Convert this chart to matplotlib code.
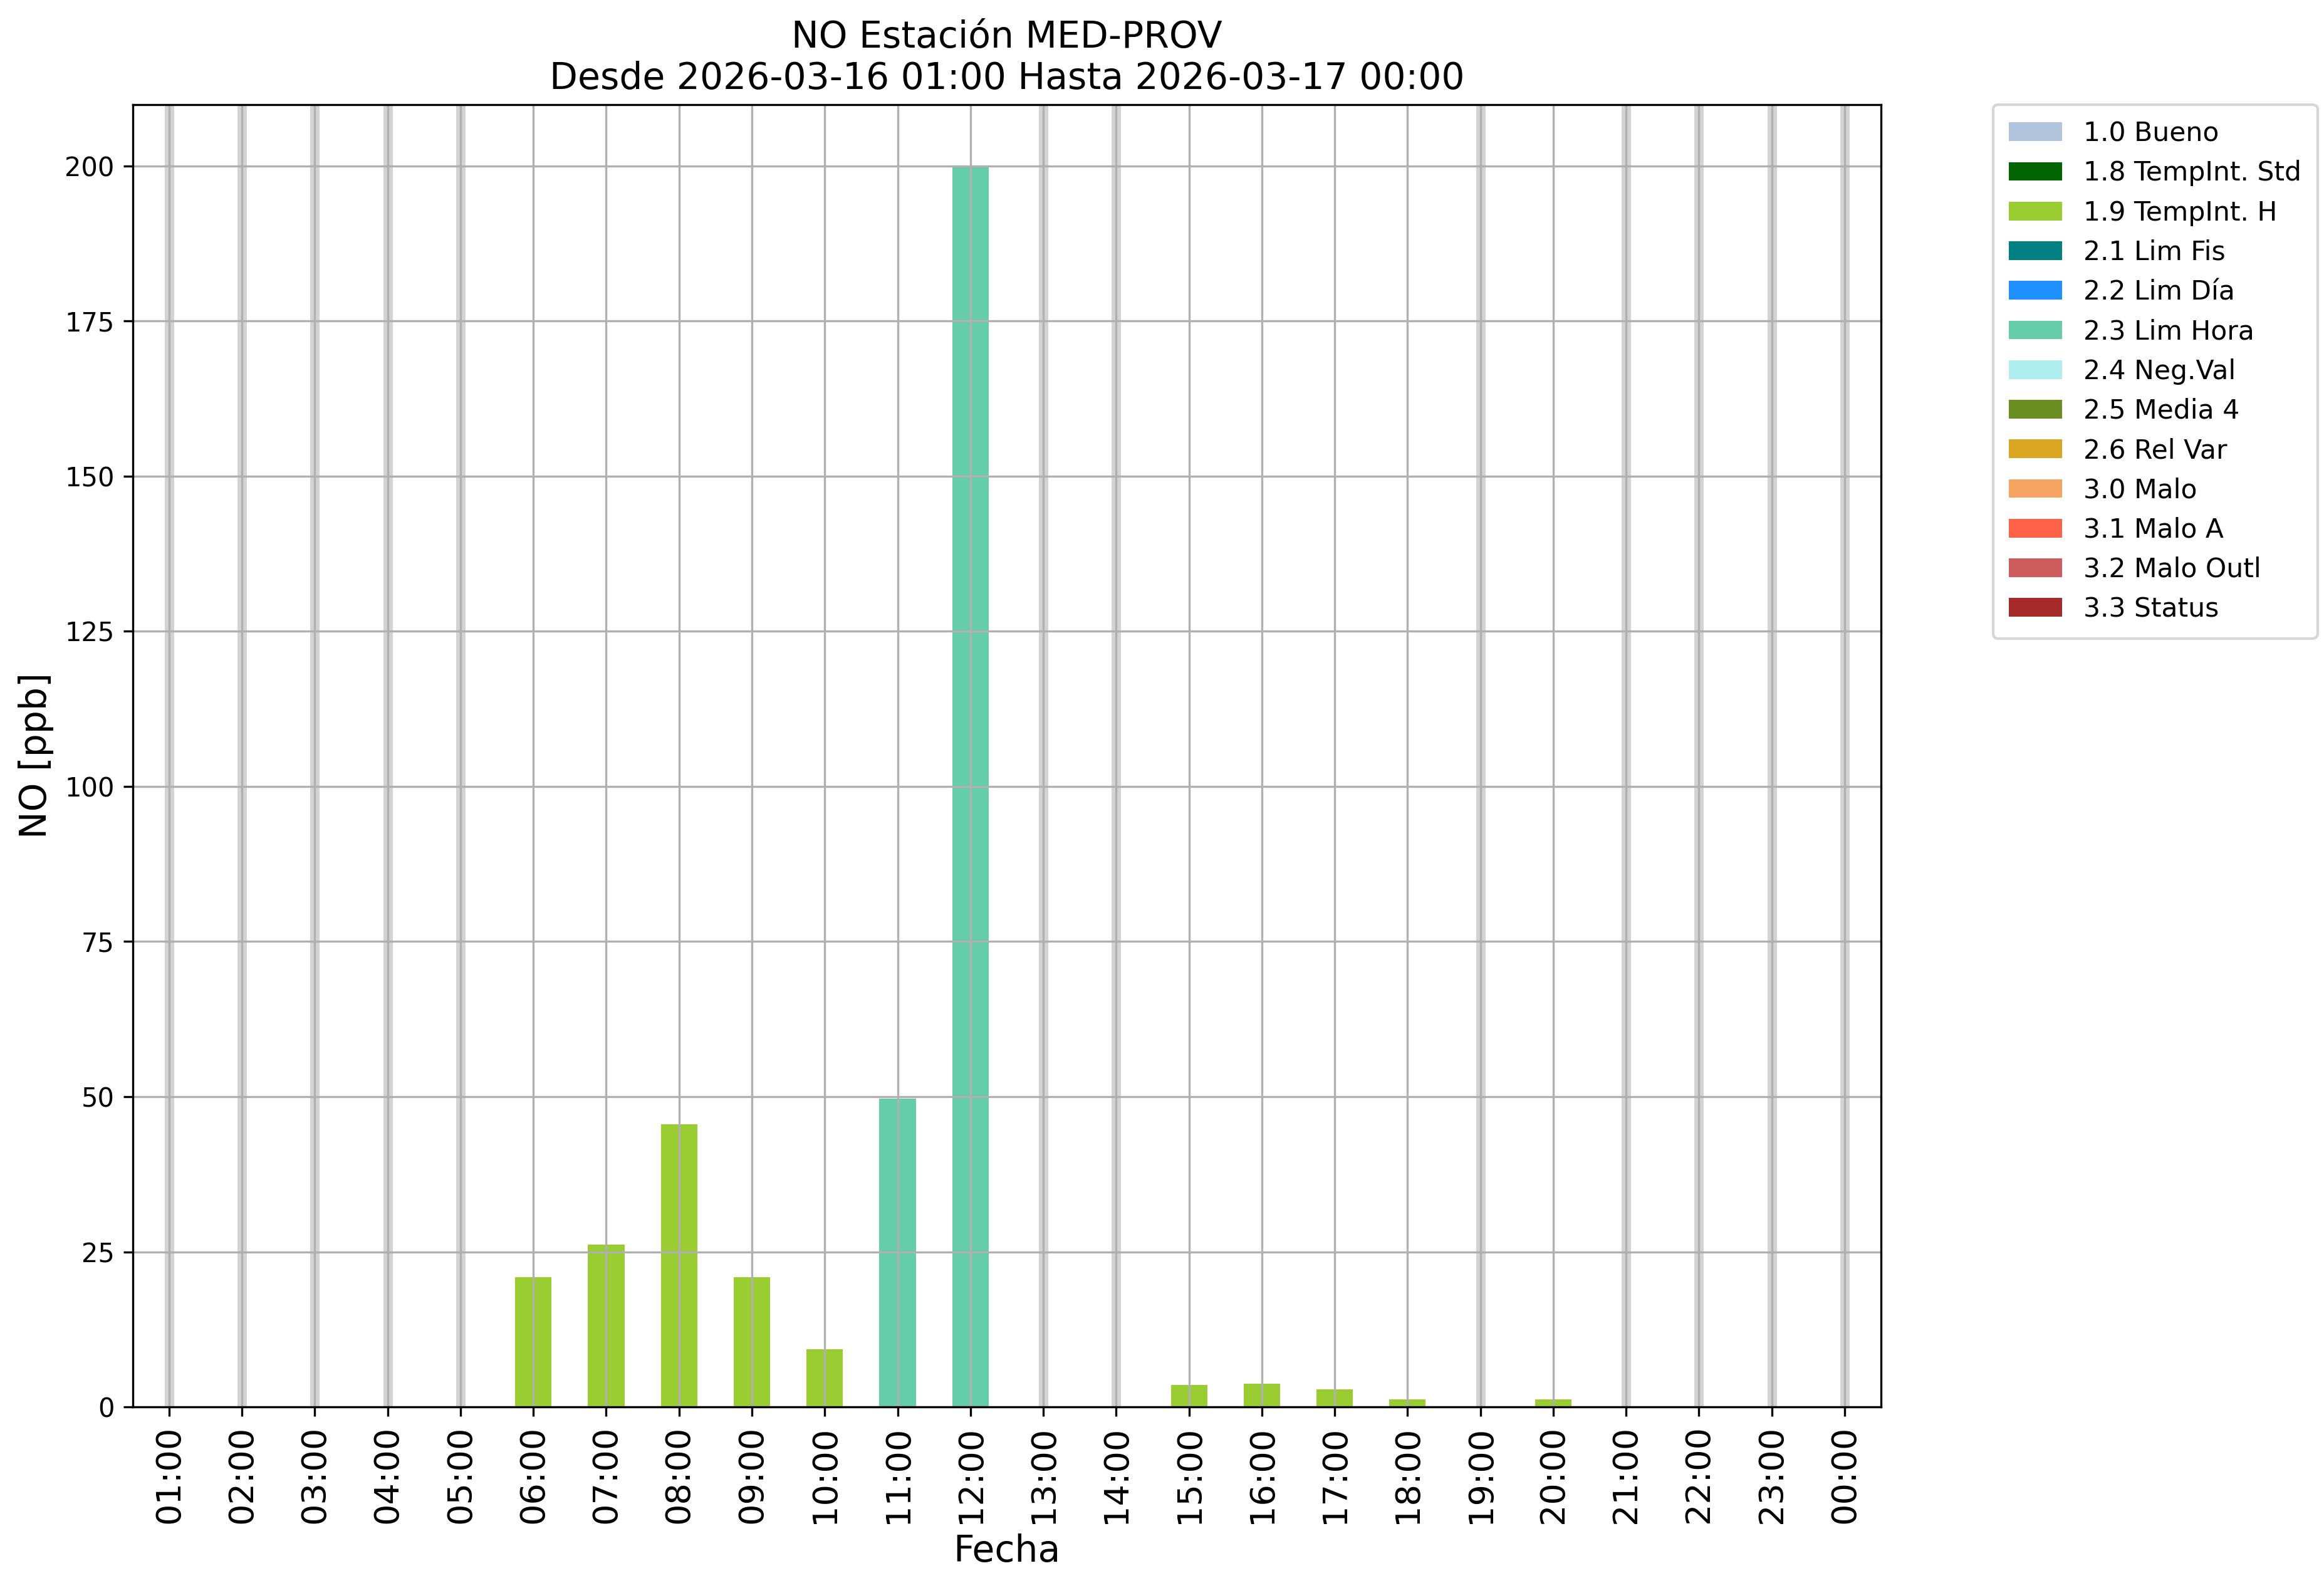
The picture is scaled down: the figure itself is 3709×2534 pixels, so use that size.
import numpy as np
import matplotlib
matplotlib.use("Agg")
import matplotlib.pyplot as plt

hours = ['01:00', '02:00', '03:00', '04:00', '05:00', '06:00', '07:00', '08:00',
         '09:00', '10:00', '11:00', '12:00', '13:00', '14:00', '15:00', '16:00',
         '17:00', '18:00', '19:00', '20:00', '21:00', '22:00', '23:00', '00:00']
nan = np.nan
values = [nan, nan, nan, nan, nan, 20.9, 26.2, 45.6, 20.9, 9.3, 49.7, 199.9,
          nan, nan, 3.5, 3.75, 2.85, 1.2, nan, 1.2, nan, nan, nan, nan]
flags = ['', '', '', '', '', '1.9', '1.9', '1.9', '1.9', '1.9', '2.3', '2.3',
         '', '', '1.9', '1.9', '1.9', '1.9', '', '1.9', '', '', '', '']

flag_codes = ['1.0', '1.8', '1.9', '2.1', '2.2', '2.3', '2.4', '2.5', '2.6',
              '3.0', '3.1', '3.2', '3.3']
flag_names = ['1.0 Bueno', '1.8 TempInt. Std', '1.9 TempInt. H', '2.1 Lim Fis',
              '2.2 Lim Día', '2.3 Lim Hora', '2.4 Neg.Val', '2.5 Media 4',
              '2.6 Rel Var', '3.0 Malo', '3.1 Malo A', '3.2 Malo Outl', '3.3 Status']
flag_colors = ['lightsteelblue', 'darkgreen', 'yellowgreen', 'teal', 'dodgerblue',
               'mediumaquamarine', 'paleturquoise', 'olivedrab', 'goldenrod',
               'sandybrown', 'tomato', 'indianred', 'brown']

title = 'NO Estación MED-PROV\nDesde 2026-03-16 01:00 Hasta 2026-03-17 00:00'

fig = plt.figure(figsize=(3709 / 300, 2534 / 300), dpi=300)
L, R, B, T = 0.0571, 0.8094, 0.1140, 0.9342
ax = fig.add_axes([L, B, R - L, T - B])

vals = np.array(values, dtype=float)
flg = np.array(flags)
x = np.arange(len(hours))
bottom = np.zeros(len(hours))
for code, name, color in zip(flag_codes, flag_names, flag_colors):
    h = np.where((flg == code) & ~np.isnan(vals), vals, 0.0)
    ax.bar(x, h, 0.5, bottom=bottom, color=color, label=name, zorder=1)
    bottom += h

for i in x[np.isnan(vals)]:
    ax.axvline(i, color='lightgrey', lw=3.6, zorder=1)

ax.grid(True)
ax.set_xlim(-0.5, len(hours) - 0.5)
ax.set_ylim(0, np.nanmax(vals) * 1.05)
ax.set_xticks(x)
ax.set_xticklabels(hours, rotation=90, fontsize=13)
ax.tick_params(axis='y', labelsize=10)
ax.set_xlabel('Fecha', fontsize=14)
ax.set_ylabel('NO [ppb]', fontsize=14)
ax.set_title(title, fontsize=14)
ax.legend(loc='upper left', bbox_to_anchor=(1.064, 1), borderaxespad=0,
          fontsize=10.2, borderpad=0.6)

fig.savefig('out.png', dpi=300)
